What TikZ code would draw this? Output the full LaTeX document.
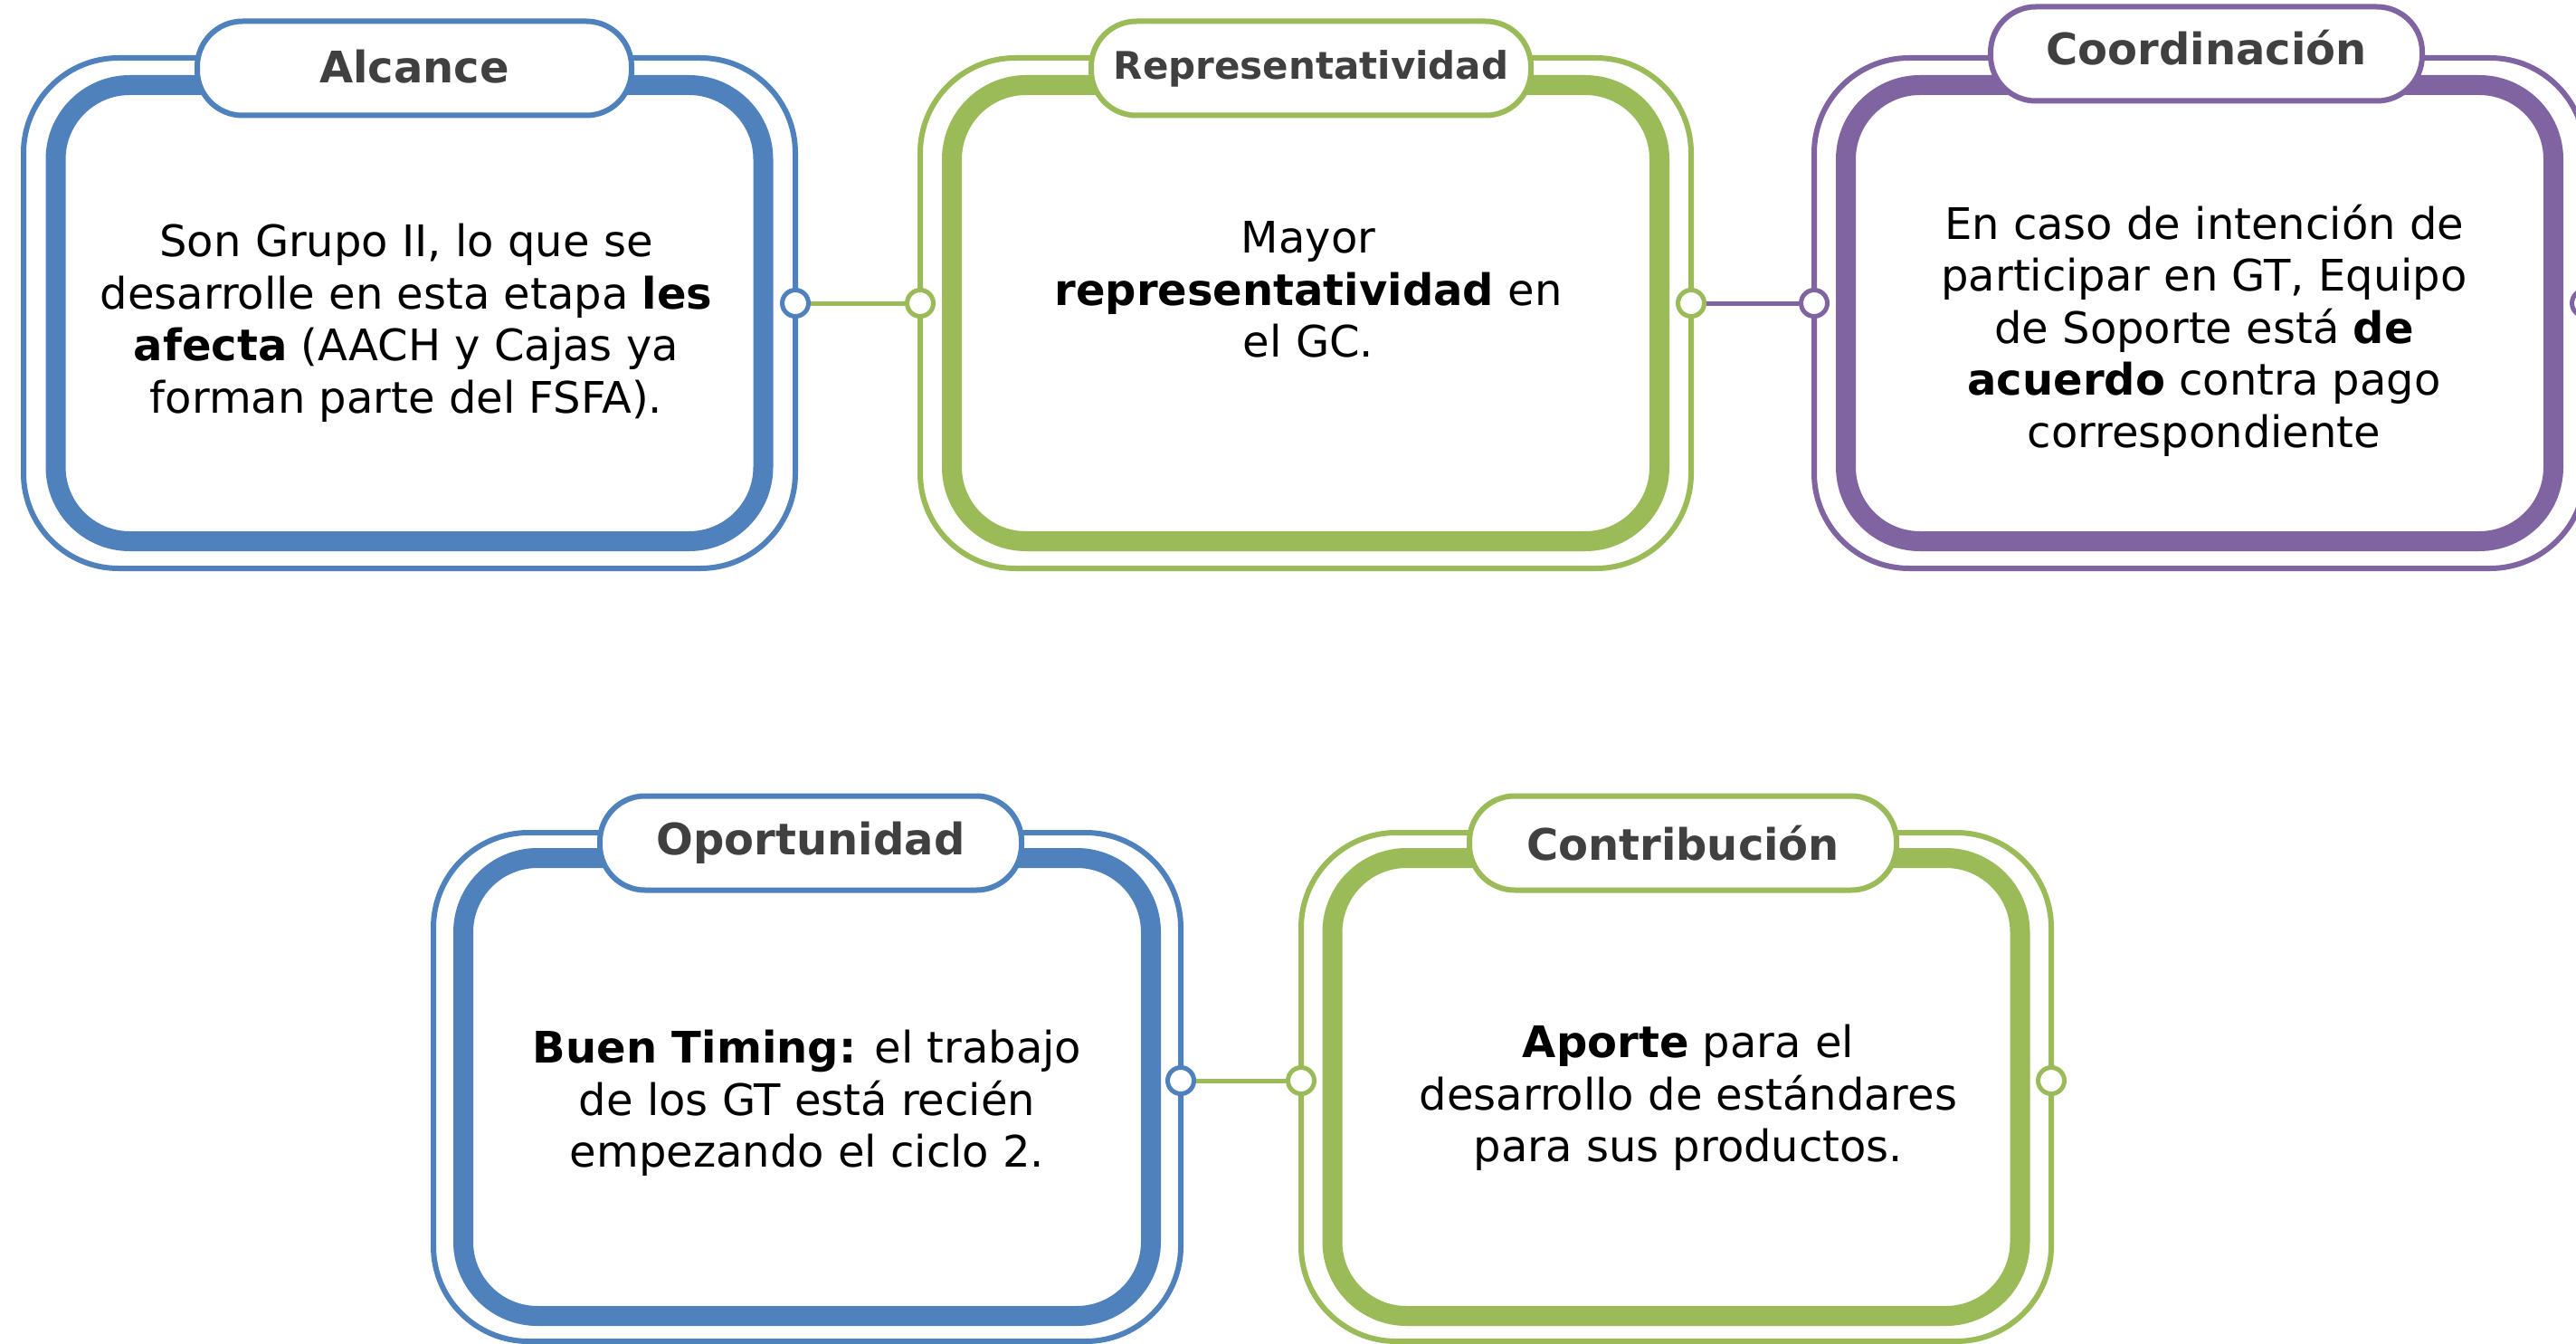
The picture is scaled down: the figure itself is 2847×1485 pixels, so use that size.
\documentclass[tikz,border=0pt]{standalone}
\usepackage{fontspec}
\setmainfont{DejaVu Sans}
\definecolor{cblue}{HTML}{4F81BD}
\definecolor{cgreen}{HTML}{9BBB59}
\definecolor{cpurple}{HTML}{8064A2}
\definecolor{ctitle}{HTML}{404040}
\begin{document}
\begin{tikzpicture}[x=1pt,y=-1pt,
  thinbox/.style={draw=#1, line width=6pt, rounded corners=105pt, inner sep=0pt, outer sep=0pt},
  thickbox/.style={draw=#1, line width=22pt, rounded corners=82pt, inner sep=0pt, outer sep=0pt},
  pill/.style={draw=#1, fill=white, line width=6pt, rounded corners=50pt, minimum height=104pt, inner sep=0pt, text=ctitle, font=\bfseries\fontsize{48}{58}\selectfont},
  dot/.style={draw=#1, fill=white, line width=5pt, circle, minimum size=29pt, inner sep=0pt},
  conn/.style={draw=#1, line width=5pt},
  bodytext/.style={align=center, inner sep=0pt, font=\fontsize{48}{57.5}\selectfont}
]
\fill[white] (0,0) rectangle (2847,1485);
\useasboundingbox (0,0) rectangle (2847,1485);
\clip (0,0) rectangle (2847,1485);

% Box 1 - Alcance
\node[thinbox=cblue, minimum width=853pt, minimum height=564pt] (b1o) at (452.5,346) {};
\node[thickbox=cblue, minimum width=782pt, minimum height=504pt] (b1i) at (452.5,346) {};
\node[pill=cblue, minimum width=480pt] (t1) at (458,75.5) {\raisebox{5pt}{Alcance}};
\node[bodytext] (x1) at (449,357) {Son Grupo II, lo que se\\ desarrolle en esta etapa \textbf{les}\\ \textbf{afecta} (AACH y Cajas ya\\ forman parte del FSFA).};
\node[dot=cblue] (c1r) at (879,335) {};

% Box 2 - Representatividad
\node[thinbox=cgreen, minimum width=852pt, minimum height=564pt] (b2o) at (1443,346) {};
\node[thickbox=cgreen, minimum width=782pt, minimum height=504pt] (b2i) at (1443,346) {};
\node[pill=cgreen, minimum width=486pt, font=\bfseries\fontsize{42}{50}\selectfont] (t2) at (1449,75.5) {\raisebox{3pt}{Representatividad}};
\node[bodytext] (x2) at (1446,320) {Mayor\\ \textbf{representatividad} en\\ el GC.};
\node[dot=cgreen] (c2l) at (1017,335) {};
\node[dot=cgreen] (c2r) at (1869,335) {};

% Box 3 - Coordinacion
\node[thinbox=cpurple, minimum width=852pt, minimum height=564pt] (b3o) at (2431,346) {};
\node[thickbox=cpurple, minimum width=782pt, minimum height=504pt] (b3i) at (2431,346) {};
\node[pill=cpurple, minimum width=477pt] (t3) at (2438.5,59.5) {\raisebox{14pt}{Coordinación}};
\node[bodytext] (x3) at (2436,365) {En caso de intención de\\ participar en GT, Equipo\\ de Soporte está \textbf{de}\\ \textbf{acuerdo} contra pago\\ correspondiente};
\node[dot=cpurple] (c3l) at (2005,335) {};
\node[dot=cpurple] (c3r) at (2857,335) {};

% Box 4 - Oportunidad
\node[thinbox=cblue, minimum width=826pt, minimum height=562pt] (b4o) at (892,1201) {};
\node[thickbox=cblue, minimum width=760pt, minimum height=506pt] (b4i) at (892,1201) {};
\node[pill=cblue, minimum width=466pt] (t4) at (896,931.5) {Oportunidad};
\node[bodytext] (x4) at (892,1219) {\textbf{Buen Timing:} el trabajo\\ de los GT está recién\\ empezando el ciclo 2.};
\node[dot=cblue] (c4r) at (1305,1194) {};

% Box 5 - Contribucion
\node[thinbox=cgreen, minimum width=829pt, minimum height=562pt] (b5o) at (1852.5,1201) {};
\node[thickbox=cgreen, minimum width=760pt, minimum height=506pt] (b5i) at (1852.5,1201) {};
\node[pill=cgreen, minimum width=472pt] (t5) at (1860,931.5) {\raisebox{-4pt}{Contribución}};
\node[bodytext] (x5) at (1866,1213) {\textbf{Aporte} para el\\ desarrollo de estándares\\ para sus productos.};
\node[dot=cgreen] (c5l) at (1438,1194) {};
\node[dot=cgreen] (c5r) at (2267,1194) {};

% Connectors
\draw[conn=cgreen] (c1r) -- (c2l);
\draw[conn=cpurple] (c2r) -- (c3l);
\draw[conn=cgreen] (c4r) -- (c5l);
\end{tikzpicture}
\end{document}
